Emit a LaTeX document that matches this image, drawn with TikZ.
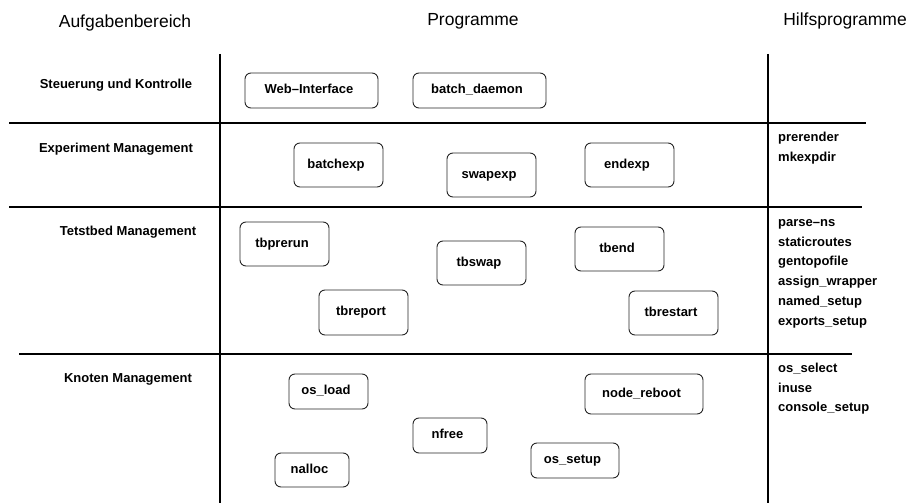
\documentclass[tikz,border=0pt]{standalone}
\usepackage{fontspec}
\setmainfont{Liberation Sans}
\begin{document}
\begin{tikzpicture}[x=1pt,y=-1pt,
  header/.style={font=\fontsize{17.5}{20}\selectfont, anchor=base, inner sep=0},
  area/.style={font=\bfseries\fontsize{13}{15}\selectfont, anchor=base, inner sep=0},
  helper/.style={font=\bfseries\fontsize{13}{15}\selectfont, anchor=base west, inner sep=0},
  prog/.style={draw=black!85, line width=0.9pt, rounded corners=6pt,
    font=\bfseries\fontsize{13}{15}\selectfont, inner sep=0,
    text height=9.4pt, text depth=2.7pt,
    execute at end node={\hspace{5pt}}},
  divider/.style={line width=2.6pt, black}]
\useasboundingbox (0,0) rectangle (908,503);

% column headers
\node[header] (hA) at (125,28) {Aufgabenbereich};
\node[header] (hP) at (473,26) {Programme};
\node[header] (hH) at (845,26) {Hilfsprogramme};

% grid lines
\coordinate (v1t) at (220,54);  \coordinate (v1b) at (220,503);
\coordinate (v2t) at (768,54);  \coordinate (v2b) at (768,503);
\coordinate (h1l) at (9,123);   \coordinate (h1r) at (866,123);
\coordinate (h2l) at (9,207);   \coordinate (h2r) at (862,207);
\coordinate (h3l) at (19,354);  \coordinate (h3r) at (852,354);
\draw[divider] (v1t) -- (v1b);
\draw[divider] (v2t) -- (v2b);
\draw[divider] (h1l) -- (h1r);
\draw[divider] (h2l) -- (h2r);
\draw[divider] (h3l) -- (h3r);

% task areas
\node[area] (a1) at (116,88.3) {Steuerung und Kontrolle};
\node[area] (a2) at (116,152) {Experiment Management};
\node[area] (a3) at (128,235) {Tetstbed Management};
\node[area] (a4) at (128,382.6) {Knoten Management};

% programs
\node[prog, minimum width=133pt, minimum height=35pt] (web)   at (311.5,90.5) {Web–Interface};
\node[prog, minimum width=133pt, minimum height=35pt] (bd)    at (479.5,90.5) {batch\_daemon};

\node[prog, minimum width=89pt, minimum height=44pt] (bexp)  at (338.5,165) {batchexp};
\node[prog, minimum width=89pt, minimum height=44pt] (sexp)  at (491.5,175) {swapexp};
\node[prog, minimum width=89pt, minimum height=44pt] (eexp)  at (629.5,165) {endexp};

\node[prog, minimum width=89pt, minimum height=44pt] (tbpr)  at (284.5,244) {tbprerun};
\node[prog, minimum width=89pt, minimum height=44pt] (tbsw)  at (481.5,263) {tbswap};
\node[prog, minimum width=89pt, minimum height=44pt] (tbend) at (619.5,249) {tbend};
\node[prog, minimum width=89pt, minimum height=45pt] (tbrep) at (363.5,312.5) {tbreport};
\node[prog, minimum width=89pt, minimum height=44pt] (tbrs)  at (673.5,313) {tbrestart};

\node[prog, minimum width=79pt, minimum height=35pt] (osl)   at (328.5,391.5) {os\_load};
\node[prog, minimum width=118pt, minimum height=40pt] (nrb)  at (644,394) {node\_reboot};
\node[prog, minimum width=74pt, minimum height=35pt] (nfr)   at (450,435.5) {nfree};
\node[prog, minimum width=88pt, minimum height=35pt] (oss)   at (575,460.5) {os\_setup};
\node[prog, minimum width=74pt, minimum height=34pt] (nal)   at (312,470) {nalloc};

% helper programs
\node[helper] (x1)  at (778,141.5) {prerender};
\node[helper] (x2)  at (778,161.2) {mkexpdir};
\node[helper] (x3)  at (778,226.5) {parse–ns};
\node[helper] (x4)  at (778,246.2) {staticroutes};
\node[helper] (x5)  at (778,265.9) {gentopofile};
\node[helper] (x6)  at (778,285.6) {assign\_wrapper};
\node[helper] (x7)  at (778,305.3) {named\_setup};
\node[helper] (x8)  at (778,325.0) {exports\_setup};
\node[helper] (x9)  at (778,372.5) {os\_select};
\node[helper] (x10) at (778,392.2) {inuse};
\node[helper] (x11) at (778,411.9) {console\_setup};
\end{tikzpicture}
\end{document}
